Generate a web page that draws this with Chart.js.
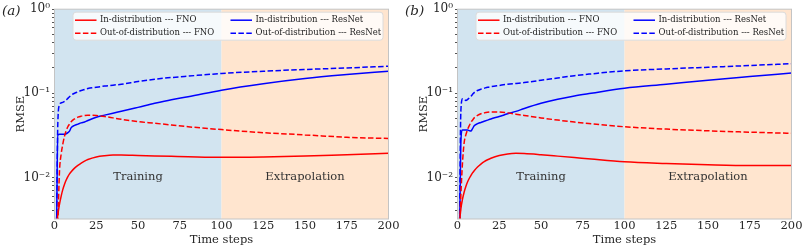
<!DOCTYPE html>
<html lang="en">
<head>
<meta charset="UTF-8">
<title>RMSE over time steps</title>
<script src="https://cdn.jsdelivr.net/npm/chart.js@4.4.0/dist/chart.umd.min.js"></script>
<style>
body { margin: 0; background: #fff; }
.panel { position: absolute; top: 0; width: 403px; height: 250px; }
</style>
</head>
<body>
<div class="panel" style="left:0"><canvas id="chartA"></canvas></div>
<div class="panel" style="left:403px"><canvas id="chartB"></canvas></div>
<script>
// time steps shared by every curve
const steps = [1, 2, 3, 4, 5, 6, 7, 8, 9, 10, 12, 14, 16, 18, 20, 25, 30, 35, 40, 50, 60, 70, 80, 100, 125, 150, 175, 200];

// panel (a)
const fnoInA  = [0.0026, 0.0036, 0.0048, 0.006, 0.0072, 0.0083, 0.0093, 0.0102, 0.011, 0.0117, 0.0129, 0.0139, 0.0148, 0.0156, 0.0163, 0.0175, 0.0181, 0.0184, 0.0184, 0.0182, 0.018, 0.0178, 0.0176, 0.0173, 0.0175, 0.0179, 0.0186, 0.0193];
const fnoOutA = [0.0015, 0.003, 0.012, 0.019, 0.025, 0.031, 0.036, 0.040, 0.043, 0.046, 0.0495, 0.052, 0.0535, 0.0545, 0.055, 0.0545, 0.053, 0.051, 0.049, 0.046, 0.044, 0.042, 0.040, 0.037, 0.034, 0.032, 0.030, 0.029];
const resInA  = [0.0008, 0.032, 0.0325, 0.0325, 0.0325, 0.0325, 0.033, 0.034, 0.0355, 0.039, 0.0415, 0.043, 0.0445, 0.0455, 0.0475, 0.052, 0.055, 0.058, 0.061, 0.068, 0.076, 0.084, 0.091, 0.109, 0.13, 0.15, 0.167, 0.183];
const resOutA = [0.0008, 0.045, 0.073, 0.077, 0.078, 0.08, 0.083, 0.087, 0.091, 0.095, 0.1, 0.104, 0.108, 0.111, 0.114, 0.118, 0.122, 0.125, 0.128, 0.138, 0.147, 0.154, 0.16, 0.172, 0.183, 0.192, 0.2, 0.21];

// panel (b)
const fnoInB  = [0.0026, 0.0042, 0.0055, 0.0067, 0.0078, 0.0088, 0.0097, 0.0105, 0.0113, 0.012, 0.0133, 0.0144, 0.0154, 0.0162, 0.0169, 0.0182, 0.019, 0.0193, 0.0192, 0.0186, 0.0179, 0.0172, 0.0165, 0.0153, 0.0146, 0.0141, 0.0138, 0.0138];
const fnoOutB = [0.0015, 0.006, 0.015, 0.026, 0.032, 0.037, 0.041, 0.045, 0.048, 0.051, 0.0545, 0.057, 0.0585, 0.0595, 0.06, 0.0598, 0.0585, 0.0565, 0.0545, 0.051, 0.048, 0.0455, 0.0435, 0.040, 0.0375, 0.0358, 0.0345, 0.0334];
const resInB  = [0.0008, 0.026, 0.0365, 0.0365, 0.0365, 0.0365, 0.036, 0.0355, 0.038, 0.041, 0.0435, 0.045, 0.0465, 0.048, 0.0495, 0.053, 0.057, 0.061, 0.066, 0.076, 0.085, 0.093, 0.1, 0.115, 0.128, 0.143, 0.158, 0.174];
const resOutB = [0.0008, 0.06, 0.086, 0.085, 0.082, 0.084, 0.088, 0.092, 0.097, 0.102, 0.108, 0.112, 0.115, 0.118, 0.12, 0.124, 0.128, 0.131, 0.134, 0.143, 0.152, 0.162, 0.17, 0.185, 0.195, 0.204, 0.214, 0.225];

const seriesLabels = ['In-distribution --- FNO', 'Out-of-distribution --- FNO', 'In-distribution --- ResNet', 'Out-of-distribution --- ResNet'];
const regionLabels = ['Training', 'Extrapolation'];
const regionEdges = [0, 100, 200];
const xTicks = [0, 25, 50, 75, 100, 125, 150, 175, 200];
const yTickValues = [0.004, 0.005, 0.006, 0.007, 0.008, 0.009, 0.01, 0.02, 0.03, 0.04, 0.05, 0.06, 0.07, 0.08, 0.09, 0.1, 0.2, 0.3, 0.4, 0.5, 0.6, 0.7, 0.8, 0.9, 1];
const yMajor = [0.01, 0.1, 1];
const yTickLabels = ['10⁻²', '10⁻¹', '10⁰'];

const serif = 'DejaVu Serif';
const textCol = '#262626';
const bandCols = ['rgb(210,228,240)', 'rgb(255,229,207)'];

function pts(vals) {
    return steps.map((s, i) => ({x: s, y: vals[i]}));
}

function line(label, vals, color, dashed) {
    return {
        label: label,
        data: pts(vals),
        borderColor: color,
        borderWidth: 1.5,
        borderDash: dashed ? [5.5, 2.4] : [],
        pointRadius: 0,
        cubicInterpolationMode: 'monotone',
        fill: false
    };
}

const bandsPlugin = {
    id: 'bands',
    beforeDatasetsDraw(chart) {
        const ctx = chart.ctx, a = chart.chartArea, xs = chart.scales.x;
        ctx.save();
        for (let i = 0; i < regionEdges.length - 1; i++) {
            const x0 = xs.getPixelForValue(regionEdges[i]);
            const x1 = xs.getPixelForValue(regionEdges[i + 1]);
            ctx.fillStyle = bandCols[i];
            ctx.fillRect(x0, a.top, x1 - x0, a.bottom - a.top);
        }
        ctx.font = '11.5px "' + serif + '"';
        ctx.fillStyle = '#333';
        ctx.textAlign = 'center';
        ctx.textBaseline = 'middle';
        for (let i = 0; i < regionLabels.length; i++) {
            const mid = (regionEdges[i] + regionEdges[i + 1]) / 2;
            ctx.fillText(regionLabels[i], xs.getPixelForValue(mid), chart.scales.y.getPixelForValue(0.01));
        }
        ctx.restore();
    },
    afterDatasetsDraw(chart) {
        const ctx = chart.ctx, a = chart.chartArea;
        ctx.save();
        // frame
        ctx.strokeStyle = '#c4c4c4';
        ctx.lineWidth = 1;
        ctx.strokeRect(a.left, a.top, a.right - a.left, a.bottom - a.top);
        // legend box
        const bx = a.left + 18.5, by = a.top + 3, bw = 310, bh = 28;
        ctx.beginPath();
        ctx.roundRect(bx, by, bw, bh, 3);
        ctx.fillStyle = 'rgba(255,255,255,0.8)';
        ctx.fill();
        ctx.strokeStyle = '#dcdcdc';
        ctx.stroke();
        ctx.font = '8.5px "' + serif + '"';
        ctx.textBaseline = 'middle';
        ctx.textAlign = 'left';
        const colX = [a.left + 20.5, a.left + 176];
        const rowY = [a.top + 11, a.top + 24];
        chart.data.datasets.forEach((ds, i) => {
            const cx = colX[Math.floor(i / 2)], cy = rowY[i % 2];
            ctx.beginPath();
            ctx.setLineDash(ds.borderDash);
            ctx.strokeStyle = ds.borderColor;
            ctx.lineWidth = 1.5;
            ctx.moveTo(cx, cy);
            ctx.lineTo(cx + 21.5, cy);
            ctx.stroke();
            ctx.setLineDash([]);
            ctx.fillStyle = textCol;
            ctx.fillText(ds.label, cx + 25, cy);
        });
        ctx.restore();
    },
    afterDraw(chart) {
        const ctx = chart.ctx;
        ctx.save();
        ctx.font = 'italic 13.5px "' + serif + '"';
        ctx.fillStyle = textCol;
        ctx.textBaseline = 'middle';
        ctx.fillText(chart.options.plugins.panelTag, 2, 11);
        ctx.restore();
    }
};

function makePanel(id, tag, fIn, fOut, rIn, rOut) {
    new Chart(document.getElementById(id), {
        type: 'line',
        data: {
            datasets: [
                line(seriesLabels[0], fIn, 'red', false),
                line(seriesLabels[1], fOut, 'red', true),
                line(seriesLabels[2], rIn, 'blue', false),
                line(seriesLabels[3], rOut, 'blue', true)
            ]
        },
        options: {
            responsive: true,
            maintainAspectRatio: false,
            animation: false,
            layout: {padding: {top: 9, right: 14.5, left: 0, bottom: 0}},
            plugins: {
                legend: {display: false},
                tooltip: {enabled: false},
                panelTag: tag
            },
            scales: {
                x: {
                    type: 'linear',
                    min: 0,
                    max: 200,
                    afterBuildTicks: s => { s.ticks = xTicks.map(v => ({value: v})); },
                    afterFit: s => { s.height = 31; },
                    ticks: {font: {family: serif, size: 11.5}, color: textCol, padding: 0, maxRotation: 0},
                    grid: {display: false, drawTicks: false},
                    border: {display: false},
                    title: {display: true, text: 'Time steps', font: {family: serif, size: 11.5}, color: textCol, padding: {top: 0, bottom: 3}}
                },
                y: {
                    type: 'logarithmic',
                    min: 0.0032,
                    max: 1,
                    afterBuildTicks: s => { s.ticks = yTickValues.map(v => ({value: v})); },
                    afterFit: s => { s.width = 54.5; },
                    ticks: {
                        autoSkip: false,
                        font: {family: serif, size: 12},
                        color: textCol,
                        padding: 2,
                        callback: v => {
                            const k = yMajor.findIndex(m => Math.abs(m - v) < 1e-9);
                            return k >= 0 ? yTickLabels[k] : '';
                        }
                    },
                    grid: {drawOnChartArea: false, drawTicks: true, tickLength: 2.5, tickColor: '#555'},
                    border: {display: false},
                    title: {display: true, text: 'RMSE', font: {family: serif, size: 11.5}, color: textCol, padding: {top: 14, bottom: 0}}
                }
            }
        },
        plugins: [bandsPlugin]
    });
}

makePanel('chartA', '(a)', fnoInA, fnoOutA, resInA, resOutA);
makePanel('chartB', '(b)', fnoInB, fnoOutB, resInB, resOutB);
</script>
</body>
</html>
